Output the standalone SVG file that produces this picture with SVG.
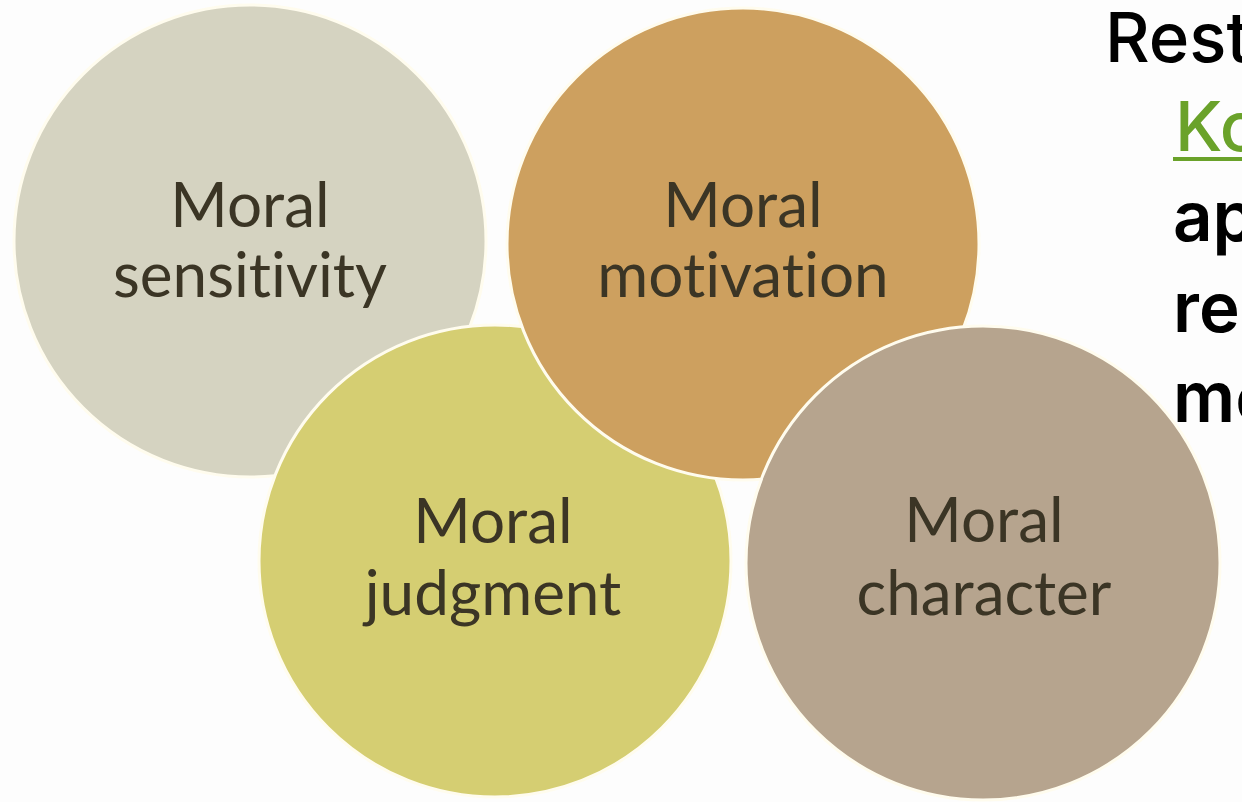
<svg xmlns="http://www.w3.org/2000/svg" width="1242" height="802" viewBox="0 0 1242 802">
  <style>
    .disc { stroke: #fffcee; stroke-width: 3; }
    .lbl { font-family: Lato, "Open Sans", "Liberation Sans", sans-serif; font-size: 62px; fill: #3b3525; text-anchor: middle; font-variant-ligatures: none; font-feature-settings: "liga" 0, "clig" 0; }
    .side { font-family: Inter, "Liberation Sans", sans-serif; font-size: 69px; font-weight: 600; fill: #000000; }
    .head { font-weight: 500; }
    .link { fill: #6aa22a; }
  </style>
  <rect x="0" y="0" width="1242" height="802" fill="#fdfdfd"/>
  <g id="connectors"/>
  <g id="sensitivity">
    <circle class="disc" cx="250" cy="241" r="236" fill="#d5d3c1"/>
    <text class="lbl" x="250" y="227">Moral</text>
    <text class="lbl" x="250" y="297">sensitivity</text>
  </g>
  <g id="judgment">
    <circle class="disc" cx="495" cy="561" r="236" fill="#d5ce72"/>
    <text class="lbl" x="493" y="543">Moral</text>
    <text class="lbl" x="493" y="615">judgment</text>
  </g>
  <g id="motivation">
    <circle class="disc" cx="743" cy="244" r="236" fill="#cda05f"/>
    <text class="lbl" x="743" y="227">Moral</text>
    <text class="lbl" x="743" y="297">motivation</text>
  </g>
  <g id="character">
    <circle class="disc" cx="983" cy="563" r="237" fill="#b6a48e"/>
    <text class="lbl" x="984" y="542">Moral</text>
    <text class="lbl" x="984" y="615">character</text>
  </g>
  <g id="side-text">
    <text class="side head" x="1105" y="62">Rest</text>
    <text class="side head link" x="1175" y="151">Ko</text>
    <rect class="link" x="1173" y="157" width="69" height="4"/>
    <text class="side" x="1173" y="241">ap</text>
    <text class="side" x="1173" y="332">res</text>
    <text class="side" x="1173" y="422">mo</text>
  </g>
</svg>
